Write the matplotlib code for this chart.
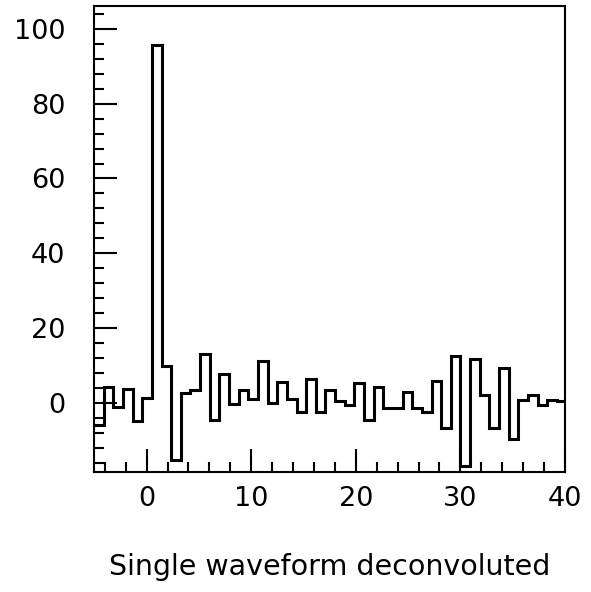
import matplotlib
matplotlib.use("Agg")
import matplotlib.pyplot as plt
from matplotlib.ticker import MultipleLocator
import numpy as np

# Histogram contents (bin values)
counts = [-6.0, 4.2, -1.0, 3.7, -4.8, 1.3, 95.6, 10.0, -15.3, 2.6,
          3.6, 13.0, -4.4, 7.8, -0.2, 3.6, 1.1, 11.1, -0.1, 5.5,
          1.2, -2.4, 6.5, -2.3, 3.6, 0.5, -0.4, 5.4, -4.5, 4.4,
          -1.4, -1.2, 3.0, -1.3, -2.5, 5.8, -6.8, 12.7, -16.9, 11.8,
          2.2, -6.8, 9.3, -9.7, 0.9, 2.2, -0.6, 0.7, 0.5]
bin_start = -5.03
bin_width = 0.922
x_ticks = [0, 10, 20, 30, 40]
y_ticks = [0, 20, 40, 60, 80, 100]
x_label = "Single waveform deconvoluted"

edges = bin_start + bin_width * np.arange(len(counts) + 1)

fig = plt.figure(figsize=(5.91, 5.92), dpi=100)
ax = fig.add_axes([0.1596, 0.2032, 0.956 - 0.1596, 0.9899 - 0.2032])

ax.stairs(counts, edges, baseline=None, color="black", linewidth=2.2)

ax.set_xlim(-5, 40)
ax.set_ylim(-18.35, 106.1)

ax.xaxis.set_major_locator(MultipleLocator(10))
ax.xaxis.set_minor_locator(MultipleLocator(2))
ax.yaxis.set_major_locator(MultipleLocator(20))
ax.yaxis.set_minor_locator(MultipleLocator(4))
ax.set_xticks(x_ticks)
ax.set_yticks(y_ticks)

ax.tick_params(axis="both", which="both", direction="in", top=False, right=False,
               color="black", width=1.5)
ax.tick_params(axis="both", which="major", length=16.5, labelsize=19.5)
ax.tick_params(axis="both", which="minor", length=7.5)
ax.tick_params(axis="y", which="major", pad=21)
ax.tick_params(axis="x", which="major", pad=10)

for s in ax.spines.values():
    s.set_linewidth(1.5)
    s.set_color("black")

ax.set_xlabel(x_label, fontsize=20.5, labelpad=30)

fig.savefig("out.png", dpi=100, facecolor="white")
